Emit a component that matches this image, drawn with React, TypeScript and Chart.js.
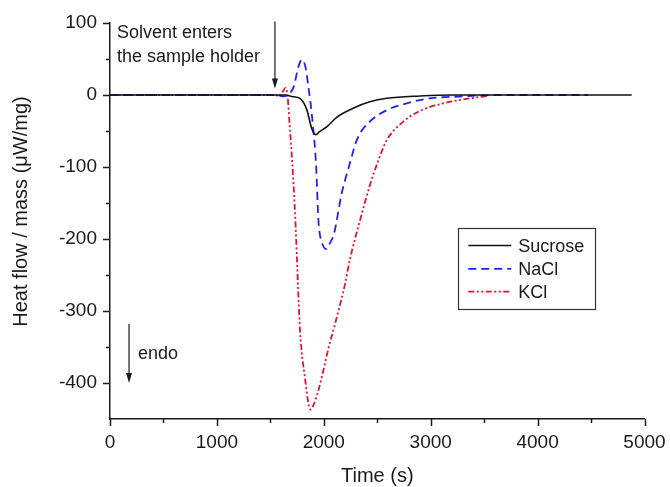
import React, { useEffect, useRef } from "react";
import { Chart, registerables } from "chart.js";

Chart.register(...registerables);

// ---- data (time in s, heat flow / mass in µW/mg) ----
const sucroseTime = [0, 1550, 1640, 1700, 1780, 1840, 1890, 1925, 1960, 2030, 2120, 2280, 2430, 2590, 2900, 3200, 4880];
const sucroseFlow = [0, 0, 0, -2, -5, -20, -48, -55, -51, -44, -31, -18, -9.5, -4.6, -1.4, 0, 0];

const naclTime = [0, 1560, 1620, 1680, 1720, 1760, 1795, 1830, 1855, 1875, 1900, 1927, 1950, 1965, 1990, 2020, 2060, 2095, 2167, 2240, 2310, 2430, 2590, 2775, 2990, 3300, 3600, 4470];
const naclFlow = [0, 0, -2, 2, 12, 38, 49, 38, 12, -10, -45, -95, -175, -195, -208, -214, -205, -193, -137, -97, -62, -37, -21, -11.6, -4.6, -2, 0, 0];

const kclTime = [0, 1540, 1590, 1615, 1640, 1660, 1684, 1715, 1737, 1777, 1824, 1875, 1905, 1950, 2000, 2040, 2105, 2198, 2245, 2339, 2432, 2510, 2588, 2744, 2900, 3118, 3368, 3550];
const kclFlow = [0, 0, -2, 4, 10, 0, -49, -118, -184, -325, -393, -437, -430, -410, -380, -354, -318, -263, -228, -174, -125, -91, -63, -37, -22, -11.6, -4.6, -1];

const seriesNames = ["Sucrose", "NaCl", "KCl"];

const xTicks = { min: 0, max: 5000, major: 1000, minor: 500 };
const yTicks = { min: -450, max: 100, major: 100, minor: 50 };

const FONT = "'Liberation Sans', Arial, Helvetica, sans-serif";
const INK = "#1a1a1a";

export default function App() {
  const ref = useRef<HTMLCanvasElement>(null);

  useEffect(() => {
    const canvas = ref.current;
    if (!canvas) return;
    const toPts = (t: number[], f: number[]) => t.map((x, i) => ({ x, y: f[i] }));

    const overlay = {
      id: "overlay",
      afterDraw(chart: any) {
        const { ctx, chartArea } = chart;
        const xs = chart.scales.x;
        const ys = chart.scales.y;
        ctx.save();
        ctx.strokeStyle = INK;
        ctx.fillStyle = INK;
        ctx.lineWidth = 1.5;
        // tick marks (major + minor)
        for (let v = xTicks.min; v <= xTicks.max; v += xTicks.minor) {
          const px = Math.round(xs.getPixelForValue(v)) + 0.5;
          const len = v % xTicks.major === 0 ? 7 : 4;
          ctx.beginPath();
          ctx.moveTo(px, chartArea.bottom);
          ctx.lineTo(px, chartArea.bottom + len);
          ctx.stroke();
        }
        for (let v = yTicks.min + yTicks.minor; v <= yTicks.max; v += yTicks.minor) {
          const py = Math.round(ys.getPixelForValue(v)) + 0.5;
          const len = v % yTicks.major === 0 ? 7 : 4;
          ctx.beginPath();
          ctx.moveTo(chartArea.left, py);
          ctx.lineTo(chartArea.left - len, py);
          ctx.stroke();
        }

        // y-axis title
        ctx.save();
        ctx.font = `20px ${FONT}`;
        ctx.textAlign = "center";
        ctx.textBaseline = "middle";
        ctx.translate(21, (chartArea.top + chartArea.bottom) / 2 - 9.5);
        ctx.rotate(-Math.PI / 2);
        ctx.fillText("Heat flow / mass (\u03bcW/mg)", 0, 0);
        ctx.restore();

        // arrows
        const arrow = (xv: number, y0: number, y1: number) => {
          const x = xs.getPixelForValue(xv);
          const ya = ys.getPixelForValue(y0);
          const yb = ys.getPixelForValue(y1);
          ctx.lineWidth = 1.2;
          ctx.beginPath();
          ctx.moveTo(x, ya);
          ctx.lineTo(x, yb - 8);
          ctx.stroke();
          ctx.beginPath();
          ctx.moveTo(x - 3, yb - 10);
          ctx.lineTo(x + 3, yb - 10);
          ctx.lineTo(x, yb);
          ctx.closePath();
          ctx.fill();
        };
        arrow(1543, 102, 9);
        arrow(178, -318, -400);

        ctx.font = `18px ${FONT}`;
        ctx.textBaseline = "middle";
        ctx.textAlign = "left";
        ctx.fillText("Solvent enters", xs.getPixelForValue(65), ys.getPixelForValue(86));
        ctx.fillText("the sample holder", xs.getPixelForValue(65), ys.getPixelForValue(53));
        ctx.fillText("endo", xs.getPixelForValue(262), ys.getPixelForValue(-360));

        // legend
        const lx = xs.getPixelForValue(3258);
        const ly = ys.getPixelForValue(-184.5);
        const lw = 137;
        const lh = 81;
        ctx.lineWidth = 1.2;
        ctx.setLineDash([]);
        ctx.strokeStyle = "#333";
        ctx.strokeRect(Math.round(lx) + 0.5, Math.round(ly) + 0.5, lw, lh);
        const rows = [17.7, 41, 63.7];
        chart.data.datasets.forEach((ds: any, i: number) => {
          const y = ly + rows[i];
          ctx.save();
          ctx.strokeStyle = ds.borderColor;
          ctx.lineWidth = ds.borderWidth;
          ctx.setLineDash(ds.borderDash || []);
          ctx.beginPath();
          ctx.moveTo(lx + 10, y);
          ctx.lineTo(lx + 53, y);
          ctx.stroke();
          ctx.restore();
          ctx.fillStyle = INK;
          ctx.fillText(ds.label, lx + 60, y + 1);
        });
        ctx.restore();
      },
    };

    const chart = new Chart(canvas, {
      type: "line",
      data: {
        datasets: [
          {
            label: seriesNames[0],
            data: toPts(sucroseTime, sucroseFlow),
            borderColor: "#111111",
            borderWidth: 1.6,
            borderDash: [],
            pointRadius: 0,
            cubicInterpolationMode: "monotone",
          },
          {
            label: seriesNames[1],
            data: toPts(naclTime, naclFlow),
            borderColor: "#2222f0",
            borderWidth: 1.8,
            borderDash: [8, 5],
            pointRadius: 0,
            cubicInterpolationMode: "monotone",
          },
          {
            label: seriesNames[2],
            data: toPts(kclTime, kclFlow),
            borderColor: "#e4142e",
            borderWidth: 1.8,
            borderDash: [6, 2.5, 2, 2.5, 2, 2.5],
            pointRadius: 0,
            cubicInterpolationMode: "monotone",
          },
        ],
      },
      options: {
        animation: false,
        responsive: false,
        layout: { padding: { left: 0, top: 23, right: 25.5, bottom: 0 } },
        plugins: { legend: { display: false }, tooltip: { enabled: false } },
        scales: {
          x: {
            type: "linear",
            min: xTicks.min,
            max: xTicks.max,
            grid: { display: false, drawTicks: false },
            border: { display: true, color: INK, width: 1.5 },
            ticks: {
              stepSize: xTicks.major,
              padding: 12,
              color: INK,
              font: { family: FONT, size: 19 },
              maxRotation: 0,
              autoSkip: false,
              callback: (v: any) => String(v),
            },
            title: {
              display: true,
              text: "Time (s)",
              color: INK,
              font: { family: FONT, size: 20 },
              padding: { top: 0, bottom: -1 },
            },
            afterFit: (s: any) => {
              s.height = 68;
              s.paddingLeft = 0;
              s.paddingRight = 0;
            },
          },
          y: {
            type: "linear",
            min: yTicks.min,
            max: yTicks.max,
            grid: { display: false, drawTicks: false },
            border: { display: true, color: INK, width: 1.5 },
            ticks: {
              stepSize: yTicks.major,
              padding: 13,
              color: INK,
              font: { family: FONT, size: 19 },
              autoSkip: false,
              callback: (v: any) => (Number(v) % yTicks.major === 0 ? String(v) : ""),
            },
            title: { display: false },
            afterFit: (s: any) => {
              s.width = 110;
              s.paddingTop = 0;
              s.paddingBottom = 0;
            },
          },
        },
      },
      plugins: [overlay],
    } as any);

    return () => chart.destroy();
  }, []);

  return (
    <canvas
      ref={ref}
      width={670}
      height={487}
      style={{ position: "absolute", left: 0, top: 0, width: 670, height: 487, background: "#fff" }}
    />
  );
}
